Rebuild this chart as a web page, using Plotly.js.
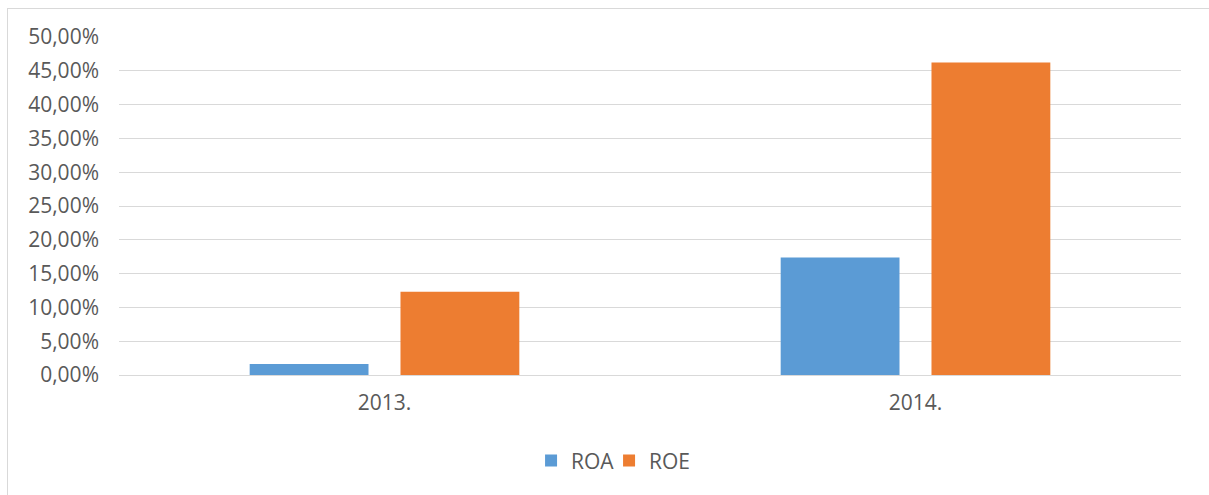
<!DOCTYPE html>
<html>
<head>
<meta charset="utf-8">
<script src="https://cdn.plot.ly/plotly-3.0.1.min.js"></script>
<style>
  html, body { margin: 0; padding: 0; background: #ffffff; overflow: hidden; }
  #frame { position: absolute; left: 7px; top: 8px; width: 1400px; height: 700px; border: 1px solid #d9d9d9; }
  #chart { position: absolute; left: 0; top: 0; width: 1209px; height: 495px; }
</style>
</head>
<body>
<div id="frame"></div>
<div id="chart"></div>
<script>
const categories = ["2013.", "2014."];
const roaValues = [0.0163, 0.1737];
const roeValues = [0.1232, 0.4624];
const seriesNames = ["ROA", "ROE"];

const fontFamily = "'Open Sans', 'Noto Sans', sans-serif";
const textColor = "#595959";

const traces = [
  { type: "bar", name: seriesNames[0], x: categories, y: roaValues,
    marker: { color: "#5B9BD5" }, hoverinfo: "skip" },
  { type: "bar", name: seriesNames[1], x: categories, y: roeValues,
    marker: { color: "#ED7D31" }, hoverinfo: "skip" },
  /* invisible spacer legend entry so the last legend label is not clipped */
  { type: "scatter", mode: "markers", name: " ", x: [null], y: [null], showlegend: true,
    marker: { color: "rgba(0,0,0,0)", size: 1 }, hoverinfo: "skip" }
];

const layout = {
  width: 1209, height: 495,
  margin: { l: 119, r: 28, t: 37, b: 120 },
  paper_bgcolor: "rgba(0,0,0,0)",
  plot_bgcolor: "rgba(0,0,0,0)",
  separators: ", ",
  barmode: "group",
  bargap: 0.432,
  bargroupgap: 0.212,
  font: { family: fontFamily, size: 21, color: textColor },
  xaxis: {
    type: "category",
    showgrid: false, zeroline: false, showline: false,
    ticks: "", ticklabelstandoff: 13,
    tickfont: { family: fontFamily, size: 21, color: textColor }
  },
  yaxis: {
    range: [0, 0.5], dtick: 0.05, tick0: 0,
    tickformat: ".2%",
    showgrid: true, gridcolor: "#d9d9d9", gridwidth: 1,
    zeroline: true, zerolinecolor: "#d9d9d9", zerolinewidth: 1,
    showline: false, ticks: "", ticklabelstandoff: 19,
    tickfont: { family: fontFamily, size: 21, color: textColor }
  },
  showlegend: true,
  legend: {
    orientation: "h", x: 0.388, xanchor: "left", y: -0.254, yanchor: "middle",
    font: { family: fontFamily, size: 21, color: textColor },
    itemwidth: 30, traceorder: "normal",
    entrywidth: 33, entrywidthmode: "pixels"
  }
};

Plotly.newPlot("chart", traces, layout, { displayModeBar: false, staticPlot: true });
</script>
</body>
</html>
